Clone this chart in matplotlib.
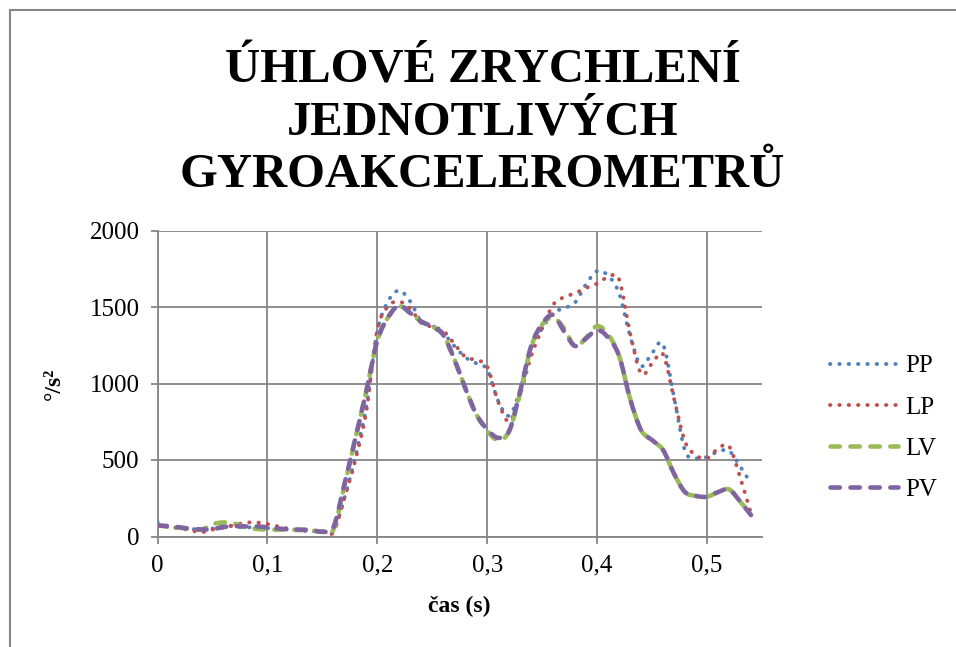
import numpy as np
import matplotlib
matplotlib.use('Agg')
import matplotlib.pyplot as plt
from matplotlib.path import Path
from matplotlib.patches import PathPatch, Rectangle
from matplotlib.lines import Line2D

plt.rcParams['font.family'] = ['Liberation Serif', 'DejaVu Serif']

# time samples (s)
cas = np.round(np.arange(0, 0.545, 0.01), 2)

# angular acceleration (deg/s^2) for each gyro
PP = [92, 65, 55, 48, 50, 52, 75, 65, 60, 60,
      55, 50, 45, 38, 35, 32, 35, 250, 520, 850,
      1340, 1540, 1608, 1535, 1405, 1378, 1330, 1245, 1172, 1132,
      1090, 885, 790, 960, 1240, 1360, 1462, 1492, 1530, 1650,
      1735, 1705, 1590, 1310, 1115, 1200, 1255, 910, 560, 511,
      520, 555, 560, 460, 345]
LP = [70, 62, 55, 40, 28, 45, 58, 75, 90, 92,
      82, 65, 50, 40, 38, 30, 28, 250, 500, 820,
      1350, 1505, 1535, 1490, 1395, 1370, 1345, 1260, 1175, 1152,
      1110, 880, 752, 930, 1180, 1360, 1515, 1565, 1590, 1625,
      1653, 1695, 1680, 1330, 1065, 1130, 1190, 900, 620, 530,
      512, 575, 590, 390, 150]
LV = [75, 62, 58, 50, 45, 80, 92, 85, 60, 50,
      45, 45, 45, 42, 40, 30, 45, 330, 640, 950,
      1280, 1435, 1505, 1460, 1405, 1372, 1317, 1160, 970, 800,
      690, 630, 690, 940, 1240, 1385, 1430, 1360, 1240, 1300,
      1375, 1320, 1180, 900, 695, 630, 565, 410, 290, 265,
      260, 290, 308, 230, 140]
PV = [72, 68, 60, 50, 46, 48, 62, 68, 66, 66,
      60, 52, 47, 45, 42, 32, 60, 340, 640, 950,
      1280, 1435, 1510, 1460, 1405, 1372, 1317, 1160, 970, 800,
      700, 645, 690, 950, 1245, 1390, 1448, 1340, 1245, 1295,
      1350, 1300, 1180, 900, 695, 630, 565, 410, 290, 265,
      260, 290, 308, 230, 140]

names = ['PP', 'LP', 'LV', 'PV']
colors = ['#4F81BD', '#C0504D', '#9BBB59', '#8064A2']
series = [PP, LP, LV, PV]


def smooth_path(x, y):
    # Catmull-Rom style bezier through the points (like a smoothed line)
    pts = np.column_stack([x, y]).astype(float)
    n = len(pts)
    verts = [pts[0]]
    codes = [Path.MOVETO]
    for i in range(n - 1):
        p0 = pts[max(i - 1, 0)]
        p1 = pts[i]
        p2 = pts[i + 1]
        p3 = pts[min(i + 2, n - 1)]
        c1 = p1 + (p2 - p0) / 6.0
        c2 = p2 - (p3 - p1) / 6.0
        verts += [c1, c2, p2]
        codes += [Path.CURVE4] * 3
    return Path(verts, codes)


fig = plt.figure(figsize=(9.56, 6.47), dpi=100)

# outer chart border
fig.patches.append(Rectangle((10 / 956, -0.1), 1.2, (637 / 647) + 0.1,
                             transform=fig.transFigure, fill=False,
                             edgecolor='#868686', lw=1.5))

ax = fig.add_axes([157.5 / 956, 110.5 / 647, 604.5 / 956, 306 / 647])

dotted = dict(ls=(0, (0.1, 2.3)), lw=2.8)
dashed = dict(ls=(0, (2.05, 2.3)), lw=3.3)
styles = [dotted, dotted, dashed, dashed]

handles = []
for name, col, s, st in zip(names, colors, series, styles):
    patch = PathPatch(smooth_path(cas, s), fill=False, edgecolor=col,
                      linewidth=st['lw'], linestyle=st['ls'],
                      capstyle='round', joinstyle='round', zorder=3)
    ax.add_patch(patch)
    h = Line2D([], [], color=col, lw=st['lw'], ls=st['ls'],
               dash_capstyle='round')
    handles.append(h)

ax.set_xlim(0, 0.55)
ax.set_ylim(0, 2000)
ax.set_xticks([0, 0.1, 0.2, 0.3, 0.4, 0.5])
ax.set_xticklabels(['0', '0,1', '0,2', '0,3', '0,4', '0,5'])
ax.set_yticks([0, 500, 1000, 1500, 2000])
ax.grid(True, color='#868686', lw=1.3)
ax.set_axisbelow(True)
for sp in ['top', 'right']:
    ax.spines[sp].set_visible(False)
for sp in ['left', 'bottom']:
    ax.spines[sp].set_color('#868686')
    ax.spines[sp].set_linewidth(1.3)
ax.tick_params(axis='both', labelsize=18, color='#868686', width=1.3,
               length=5, pad=8)

ax.set_xlabel('čas (s)', fontsize=17, fontweight='bold', labelpad=14)
ax.set_ylabel('°/s²', fontsize=17, fontweight='bold', labelpad=18)

fig.text(0.505, 0.81, 'ÚHLOVÉ ZRYCHLENÍ\nJEDNOTLIVÝCH\nGYROAKCELEROMETRŮ',
         ha='center', va='center', fontsize=35, fontweight='bold',
         linespacing=1.25)

fig.legend(handles, names, loc='center left',
           bbox_to_anchor=(820 / 956, 1 - 428 / 647), frameon=False,
           fontsize=18, handlelength=2.7, handletextpad=0.3,
           labelspacing=0.75, borderaxespad=0)

fig.savefig('out.png', dpi=100)
